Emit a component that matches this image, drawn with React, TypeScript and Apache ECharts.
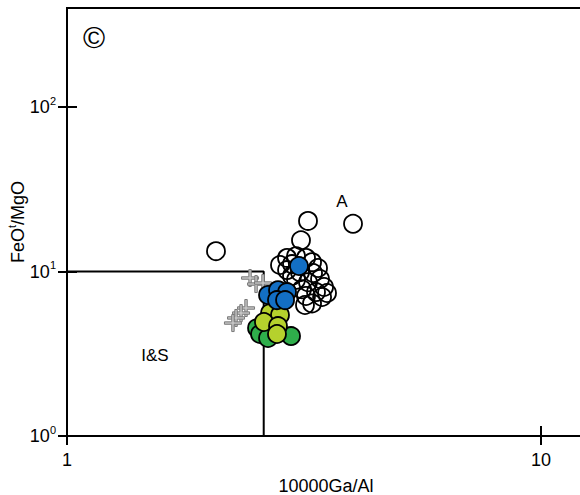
import React, { useEffect, useRef } from 'react';
import * as echarts from 'echarts';

// Axis ticks (data units)
const xTicks = [1, 10];
const yTicks = [1, 10, 100];

// I&S / A field boundary (10000Ga/Al = 2.6, FeOt/MgO = 10)
const boundary: number[][] = [[1, 10], [2.6, 10], [2.6, 1]];

// Open circles
const openCircles: number[][] = [
  [2.062, 13.3], [3.224, 20.3], [4.012, 19.5], [3.116, 15.5], [2.912, 12.1],
  [3.042, 12.4], [3.193, 12.1], [2.983, 11.1], [3.288, 11.4], [2.912, 10.2],
  [3.101, 9.9], [3.304, 9.8], [3.418, 9.0], [3.042, 8.9], [3.224, 8.6],
  [3.485, 8.05], [3.131, 7.8], [3.352, 7.5], [3.452, 7.0], [3.288, 6.4],
  [3.193, 7.1], [2.983, 9.4], [2.814, 10.95], [3.385, 10.5], [3.536, 7.4],
  [3.177, 6.26],
];

// Gray crosses
const crosses: number[][] = [
  [2.433, 9.13], [2.505, 8.39], [2.591, 8.51], [2.386, 6.0],
  [2.329, 5.59], [2.273, 5.22], [2.239, 4.86],
];

// Green circles
const greenCircles: number[][] = [
  [2.517, 4.53], [2.554, 4.17], [2.655, 3.94], [2.969, 4.05],
];

// Yellow-green circles
const limeCircles: number[][] = [
  [2.681, 5.59], [2.814, 5.44], [2.603, 4.93], [2.787, 4.66], [2.773, 4.17],
];

// Blue circles
const blueCircles: number[][] = [
  [3.086, 10.8], [2.655, 7.2], [2.787, 7.7], [2.912, 7.5], [2.773, 6.7], [2.884, 6.7],
];

const FONT = '"Liberation Sans", Arial, sans-serif';
const CROSS = 'path://M6,0H8V6H14V8H8V14H6V8H0V6H6Z';

export default function App() {
  const ref = useRef<HTMLDivElement>(null);

  useEffect(() => {
    const chart = echarts.init(ref.current!, null, { renderer: 'svg' });
    const supFmt = (v: number) => `10{sup|${Math.round(Math.log10(v))}}`;
    const baseAxis = {
      type: 'log' as const,
      logBase: 10,
      splitLine: { show: false },
      minorTick: { show: false },
      minorSplitLine: { show: false },
    };
    const circle = (data: number[][], fill: string, z: number) => ({
      type: 'scatter',
      data,
      symbol: 'circle',
      symbolSize: 18,
      z,
      itemStyle: { color: fill, borderColor: '#000', borderWidth: 1.8, opacity: 1 },
      emphasis: { disabled: true },
    });

    chart.setOption({
      animation: false,
      backgroundColor: '#fff',
      grid: {
        left: 67, top: 8, width: 518, height: 428,
        containLabel: false, outerBoundsMode: 'none',
        show: true, borderColor: '#000', borderWidth: 2, backgroundColor: 'transparent',
      },
      xAxis: [
        {
          ...baseAxis,
          min: 1, max: 12.38, position: 'bottom',
          axisLine: { onZero: false, lineStyle: { color: '#000', width: 2 } },
          axisTick: { customValues: xTicks, length: 9, lineStyle: { color: '#000', width: 2 } },
          axisLabel: {
            customValues: xTicks, formatter: (v: number) => String(v),
            color: '#000', fontSize: 18, fontFamily: FONT, margin: 15,
          },
          name: '10000Ga/Al', nameLocation: 'middle', nameGap: 41, nameMoveOverlap: false,
          nameTextStyle: { color: '#000', fontSize: 18, fontFamily: FONT },
        },
        {
          ...baseAxis,
          min: 1, max: 12.38, position: 'bottom',
          axisLine: { show: false, onZero: false },
          axisTick: { inside: true, customValues: xTicks, length: 10, lineStyle: { color: '#000', width: 2 } },
          axisLabel: { show: false },
        },
      ],
      yAxis: [
        {
          ...baseAxis,
          min: 1, max: 400, position: 'left',
          axisLine: { onZero: false, lineStyle: { color: '#000', width: 2 } },
          axisTick: { customValues: yTicks, length: 9, lineStyle: { color: '#000', width: 2 } },
          axisLabel: {
            customValues: yTicks, formatter: supFmt,
            color: '#000', fontSize: 18, fontFamily: FONT, margin: 11, lineHeight: 24,
            rich: { sup: { fontSize: 11, lineHeight: 11, verticalAlign: 'top', fontFamily: FONT, color: '#000' } },
          },
          name: 'FeO{sup|t}/MgO', nameLocation: 'middle', nameGap: 37, nameMoveOverlap: false,
          nameTextStyle: {
            color: '#000', fontSize: 18, fontFamily: FONT, lineHeight: 24,
            rich: { sup: { fontSize: 11, lineHeight: 11, verticalAlign: 'top', fontFamily: FONT, color: '#000' } },
          },
        },
        {
          ...baseAxis,
          min: 1, max: 400, position: 'left',
          axisLine: { show: false, onZero: false },
          axisTick: { inside: true, customValues: yTicks, length: 10, lineStyle: { color: '#000', width: 2 } },
          axisLabel: { show: false },
        },
      ],
      series: [
        {
          type: 'line', data: boundary, symbol: 'none', z: 1,
          lineStyle: { color: '#000', width: 2 }, silent: true,
        },
        {
          type: 'scatter', data: crosses, symbol: CROSS, symbolSize: 17, z: 2,
          itemStyle: { color: '#c4c4c4', borderColor: '#7a7a7a', borderWidth: 1, opacity: 1 },
          emphasis: { disabled: true },
        },
        circle(openCircles, 'rgba(255,255,255,0)', 3),
        circle(greenCircles, '#2fae4b', 4),
        circle(limeCircles, '#b5d12d', 5),
        circle(blueCircles, '#136fc4', 6),
      ],
      graphic: [
        { type: 'text', x: 94, y: 37, style: { text: '©', fontSize: 30, fontFamily: FONT, fill: '#000', align: 'center', verticalAlign: 'middle' } },
        { type: 'text', x: 342, y: 201, style: { text: 'A', fontSize: 17, fontFamily: FONT, fill: '#000', align: 'center', verticalAlign: 'middle' } },
        { type: 'text', x: 155, y: 355, style: { text: 'I&S', fontSize: 17, fontFamily: FONT, fill: '#000', align: 'center', verticalAlign: 'middle' } },
      ],
    });
    return () => chart.dispose();
  }, []);

  return <div ref={ref} style={{ position: 'fixed', left: 0, top: 0, width: 580, height: 495 }} />;
}
